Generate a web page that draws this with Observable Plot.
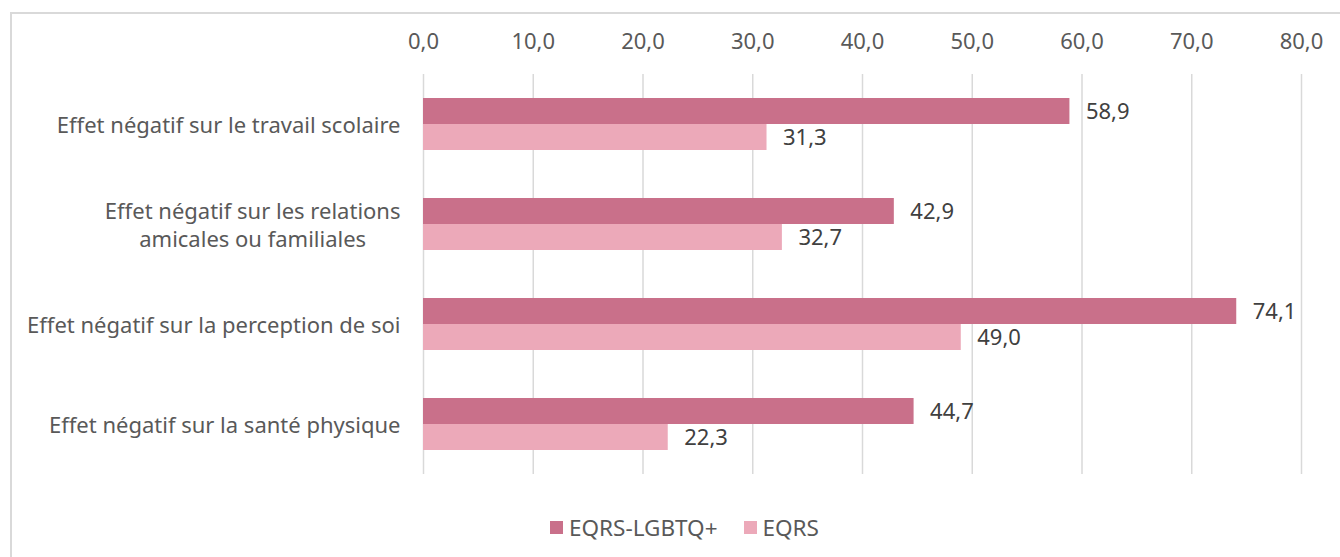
<!DOCTYPE html>
<html><head><meta charset="utf-8">
<script src="https://cdn.jsdelivr.net/npm/d3@7"></script>
<script src="https://cdn.jsdelivr.net/npm/@observablehq/plot@0.6"></script>
<style>
body{margin:0;background:#fff;font-family:"Noto Sans",sans-serif;}
#frame{position:absolute;left:10px;top:12px;width:1400px;height:600px;border-left:2px solid #d9d9d9;border-top:2px solid #d9d9d9;box-sizing:border-box}
#chart{position:absolute;left:0;top:0}
#legend{position:absolute;top:511px;height:32px;left:550px;display:flex;align-items:center;font-size:22.5px;color:#595959;white-space:nowrap}
#legend .sw{display:inline-block;width:13px;height:13px;margin-right:6px}
#legend .item{display:flex;align-items:center;margin-right:26px}
</style></head>
<body>
<div id="frame"></div>
<div id="chart"></div>
<div id="legend"></div>
<script>
const categories = [
  "Effet négatif sur le travail scolaire",
  "Effet négatif sur les relations\namicales ou familiales",
  "Effet négatif sur la perception de soi",
  "Effet négatif sur la santé physique"
];
const series = ["EQRS-LGBTQ+", "EQRS"];
const lgbtqValues = [58.9, 42.9, 74.1, 44.7];
const eqrsValues = [31.3, 32.7, 49.0, 22.3];
const xTicks = [0, 10, 20, 30, 40, 50, 60, 70, 80];
const colors = ["#C9708A", "#ECA9B9"];

const data = [];
categories.forEach((c, i) => {
  data.push({category: c, series: series[0], value: lgbtqValues[i]});
  data.push({category: c, series: series[1], value: eqrsValues[i]});
});
const fmt = d => d.toFixed(1).replace(".", ",");
const font = '"Noto Sans", sans-serif';

const plot = Plot.plot({
  width: 1340, height: 490,
  marginLeft: 423, marginRight: 39, marginTop: 74, marginBottom: 16,
  style: {fontFamily: font, fontSize: "22px", color: "#595959", background: "transparent", overflow: "visible"},
  x: {domain: [0, 80], label: null},
  y: {domain: series, paddingInner: 0, paddingOuter: 0.923, axis: null},
  fy: {domain: categories, padding: 0, label: null},
  color: {domain: series, range: colors},
  marks: [
    Plot.gridX(xTicks, {stroke: "#d9d9d9", strokeOpacity: 1, strokeWidth: 1.5}),
    Plot.axisX({anchor: "top", ticks: xTicks, tickFormat: fmt, tickSize: 0, tickPadding: 26, label: null, fill: "#595959", fontSize: 22}),
    Plot.axisFy({anchor: "left", tickSize: 0, tickPadding: 23, label: null, fill: "#595959", fontSize: 22, lineHeight: 1.27, textAnchor: "end"}),
    Plot.barX(data, {fy: "category", y: "series", x: "value", fill: "series"}),
    Plot.text(data, {fy: "category", y: "series", x: "value", text: d => fmt(d.value), textAnchor: "start", dx: 16, fill: "#404040", fontSize: 22})
  ]
});
document.getElementById("chart").appendChild(plot);

// center multi-line category labels like the original
plot.querySelectorAll("text").forEach(t => {
  const spans = t.querySelectorAll("tspan");
  if (spans.length > 1) {
    const bb = t.getBBox();
    const cx = bb.x + bb.width / 2;
    t.setAttribute("text-anchor", "middle");
    spans.forEach(s => s.setAttribute("x", cx));
  }
});

const legend = document.getElementById("legend");
series.forEach((s, i) => {
  const item = document.createElement("div");
  item.className = "item";
  const sw = document.createElement("span");
  sw.className = "sw";
  sw.style.background = colors[i];
  item.appendChild(sw);
  item.appendChild(document.createTextNode(s));
  legend.appendChild(item);
});
</script>
</body></html>
